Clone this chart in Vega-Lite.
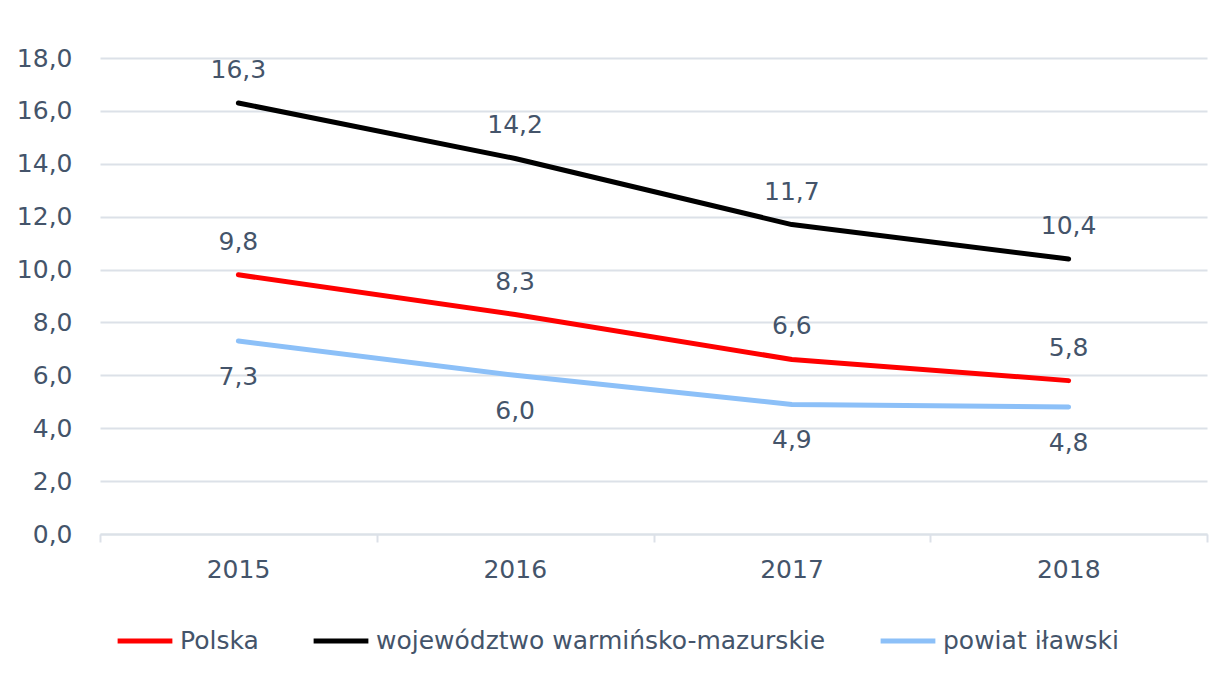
{
  "$schema": "https://vega.github.io/schema/vega-lite/v6.json",
  "width": 1107,
  "height": 476,
  "autosize": {"type": "none"},
  "padding": {"left": 100, "top": 58, "right": 2, "bottom": 139},
  "background": "white",
  "config": {
    "view": {"stroke": null},
    "font": "DejaVu Sans",
    "locale": {"number": {"decimal": ",", "thousands": " ", "grouping": [3], "currency": ["", " zł"]}}
  },
  "data": {
    "values": [
      {"rok": 2015, "seria": "Polska", "wartosc": 9.8},
      {"rok": 2016, "seria": "Polska", "wartosc": 8.3},
      {"rok": 2017, "seria": "Polska", "wartosc": 6.6},
      {"rok": 2018, "seria": "Polska", "wartosc": 5.8},
      {"rok": 2015, "seria": "województwo warmińsko-mazurskie", "wartosc": 16.3},
      {"rok": 2016, "seria": "województwo warmińsko-mazurskie", "wartosc": 14.2},
      {"rok": 2017, "seria": "województwo warmińsko-mazurskie", "wartosc": 11.7},
      {"rok": 2018, "seria": "województwo warmińsko-mazurskie", "wartosc": 10.4},
      {"rok": 2015, "seria": "powiat iławski", "wartosc": 7.3},
      {"rok": 2016, "seria": "powiat iławski", "wartosc": 6.0},
      {"rok": 2017, "seria": "powiat iławski", "wartosc": 4.9},
      {"rok": 2018, "seria": "powiat iławski", "wartosc": 4.8}
    ]
  },
  "encoding": {
    "x": {
      "field": "rok", "type": "quantitative",
      "scale": {"domain": [2014.5, 2018.5], "nice": false, "zero": false},
      "axis": {
        "title": null,
        "values": [2014.5, 2015.5, 2016.5, 2017.5, 2018.5],
        "labelExpr": "datum.value < 2018 ? format(datum.value + 0.5, 'd') : ''",
        "labelOffset": 138,
        "labelFlush": false,
        "labelOverlap": false,
        "labelBound": false,
        "grid": false,
        "domainColor": "#DCE1E8",
        "domainWidth": 2,
        "tickColor": "#DCE1E8",
        "tickWidth": 2,
        "tickSize": 8,
        "labelPadding": 15,
        "labelFontSize": 25,
        "labelColor": "#44546A"
      }
    },
    "y": {
      "field": "wartosc", "type": "quantitative",
      "scale": {"domain": [0, 18], "nice": false},
      "axis": {
        "title": null,
        "values": [0, 2, 4, 6, 8, 10, 12, 14, 16, 18],
        "format": ".1f",
        "domain": false,
        "ticks": false,
        "grid": true,
        "gridColor": "#DCE1E8",
        "gridWidth": 2,
        "labelPadding": 28,
        "labelFontSize": 25,
        "labelColor": "#44546A"
      }
    }
  },
  "layer": [
    {
      "mark": {"type": "line", "strokeWidth": 5, "strokeCap": "round", "strokeJoin": "round"},
      "encoding": {
        "color": {
          "field": "seria", "type": "nominal",
          "scale": {
            "domain": ["Polska", "województwo warmińsko-mazurskie", "powiat iławski"],
            "range": ["#FF0000", "#000000", "#8CC0F8"]
          },
          "legend": {
            "title": null,
            "orient": "none",
            "direction": "horizontal",
            "legendX": 15,
            "legendY": 553,
            "symbolType": "stroke",
            "symbolSize": 3000,
            "symbolStrokeWidth": 5,
            "labelFontSize": 25,
            "labelColor": "#44546A",
            "labelOffset": 5,
            "columnPadding": 44,
            "labelLimit": 700
          }
        }
      }
    },
    {
      "transform": [{"filter": "datum.seria !== 'powiat iławski'"}],
      "mark": {"type": "text", "dy": -33, "fontSize": 25, "color": "#44546A"},
      "encoding": {"text": {"field": "wartosc", "type": "quantitative", "format": ".1f"}}
    },
    {
      "transform": [{"filter": "datum.seria === 'powiat iławski'"}],
      "mark": {"type": "text", "dy": 36, "fontSize": 25, "color": "#44546A"},
      "encoding": {"text": {"field": "wartosc", "type": "quantitative", "format": ".1f"}}
    }
  ]
}
